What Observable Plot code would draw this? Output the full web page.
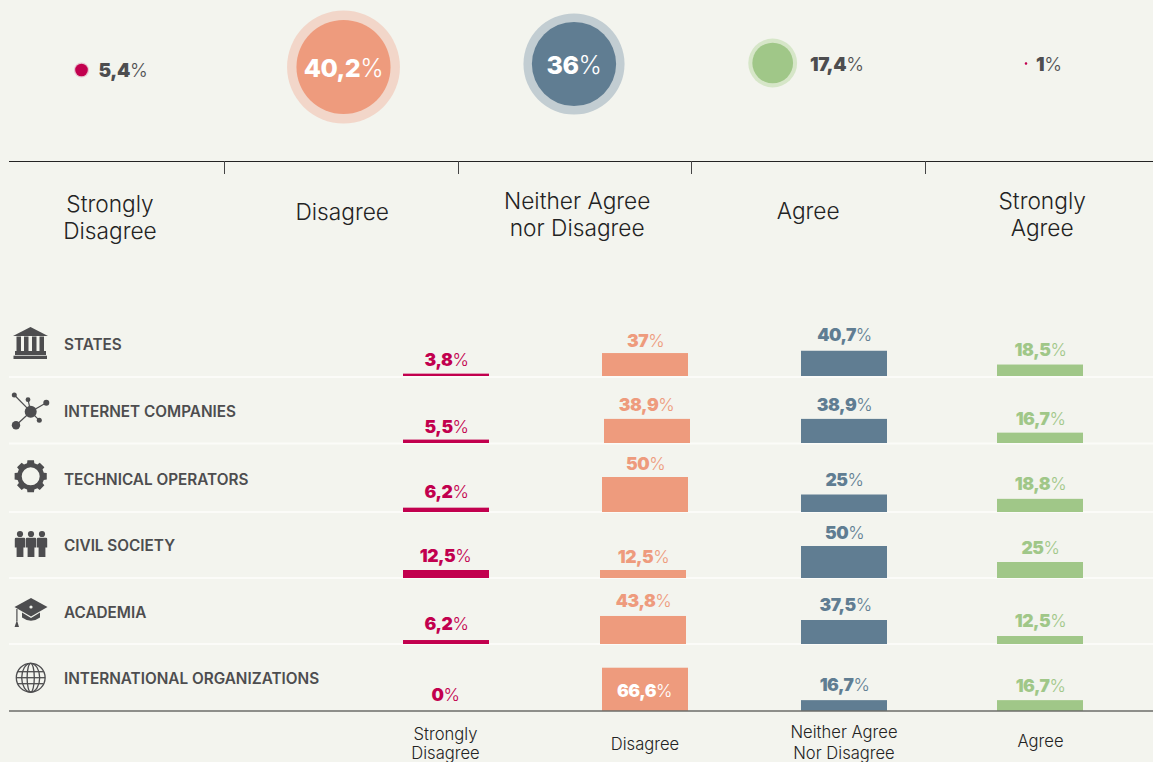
<!DOCTYPE html>
<html>
<head>
<meta charset="utf-8">
<script src="https://cdn.jsdelivr.net/npm/d3@7"></script>
<script src="https://cdn.jsdelivr.net/npm/@observablehq/plot@0.6"></script>
<style>
html,body{margin:0;padding:0;background:#f3f4ee;overflow:hidden}
svg{display:block}
.pct text{letter-spacing:-0.45px}
</style>
</head>
<body>
<div id="chart"></div>
<script>
// ---- data ----
const responses = ["Strongly\nDisagree", "Disagree", "Neither Agree\nnor Disagree", "Agree", "Strongly\nAgree"];
const overall = [5.4, 40.2, 36, 17.4, 1];
const stakeholders = ["STATES", "INTERNET COMPANIES", "TECHNICAL OPERATORS", "CIVIL SOCIETY", "ACADEMIA", "INTERNATIONAL ORGANIZATIONS"];
const stronglyDisagree = [3.8, 5.5, 6.2, 12.5, 6.2, 0];
const disagree = [37, 38.9, 50, 12.5, 43.8, 66.6];
const neither = [40.7, 38.9, 25, 50, 37.5, 16.7];
const agree = [18.5, 16.7, 18.8, 25, 12.5, 16.7];
const bottomLabels = ["Strongly\nDisagree", "Disagree", "Neither Agree\nNor Disagree", "Agree"];

// ---- layout and style ----
const BG = "#f3f4ee", INK = "#4d4d4f", DARK = "#232323";
const colors = ["#c2004e", "#ee9b7d", "#607d92", "#a0c788", "#c2004e"];
const halos = ["#e7c3cf", "#f2d6c9", "#c2cdd2", "#d6e6c8", "#e7c3cf"];
const FONT = "Inter, 'Noto Sans', sans-serif";
const circleX = [81, 343, 573.5, 772.2, 1025.5];
const circleY = [69.5, 66.5, 63.5, 62.5, 63];
const headX = [109.5, 341.7, 576.7, 807.7, 1041.7];
const headY = [216, 211, 213, 210, 213];
const topTickX = [224, 458, 691, 925];
const baseY = [376, 443, 512, 578, 644, 711];
const sepY = [376.5, 443, 511.5, 577.5, 643.5];
const rowLabelY = [345, 412, 480, 546, 613, 679];
const pxPerPct = [0.62, 0.62, 0.7, 0.64, 0.64, 0.65];
const barLeft = [
  [403, 602, 801, 997],
  [403, 604, 801, 997],
  [403, 602, 801, 997],
  [403, 600, 801, 997],
  [403, 600, 801, 997],
  [403, 602, 801, 997]
];
const BAR_W = 86;
const labelX = [
  [446, 645, 844, 1040],
  [446, 646, 844, 1040],
  [446, 645, 844, 1040],
  [445, 643, 844, 1040],
  [446, 643, 845, 1040],
  [445, 644, 844, 1040]
];
const labelY = [
  [360, 341, 335, 350],
  [427, 405, 405, 419],
  [492, 464, 480, 484],
  [556, 557, 533, 548],
  [624, 601, 605, 621],
  [695, 691, 685, 686]
];
const bottomX = [445, 644.5, 843.5, 1040];
const bottomY = [742.5, 744, 741, 741];
const bottomLead = [1.15, 1, 1.25, 1];

const fmt = v => String(v).replace(".", ",") + "%";

// table built from the arrays
const series = [stronglyDisagree, disagree, neither, agree];
const cells = series.flatMap((vals, c) => vals.map((value, r) => ({c, r, value})));
const tops = overall.map((value, i) => ({value, i}));

// icons: local coordinates around the icon's centre
function gearPath() {
  const p = [];
  const n = 8;
  for (let i = 0; i < n; i++) {
    const a = i / n * 2 * Math.PI;
    const w = 0.2;
    [[13.6, -w * 1.35], [16.4, -w], [16.4, w], [13.6, w * 1.35]].forEach(([R, t]) => {
      p.push([R * Math.cos(a + t), R * Math.sin(a + t)]);
    });
  }
  return "M" + p.map(q => q[0].toFixed(2) + "," + q[1].toFixed(2)).join("L") + "Z" +
    "M9,0A9,9 0 1 0 -9,0A9,9 0 1 0 9,0Z";
}
const icons = [
  {cx: 30.5, cy: 343, svg: `<path fill="${INK}" d="M-17.5,-7L0,-16L17.5,-7Z"/>
    <rect x="-14" y="-6.5" width="4.5" height="14.5" fill="${INK}"/>
    <rect x="-6.5" y="-6.5" width="4.5" height="14.5" fill="${INK}"/>
    <rect x="1.5" y="-6.5" width="4.5" height="14.5" fill="${INK}"/>
    <rect x="9" y="-6.5" width="4.5" height="14.5" fill="${INK}"/>
    <rect x="-15.5" y="8" width="31" height="4" fill="${INK}"/>
    <rect x="-17" y="12.7" width="33.5" height="3.3" fill="${INK}"/>`},
  {cx: 30.7, cy: 411.7, svg: `<g stroke="${INK}" stroke-width="1.2">
    <line x2="-16.4" y2="-16.7"/><line x2="-2.7" y2="-12"/><line x2="15.6" y2="-9"/><line x2="8.6" y2="8.6"/><line x2="-14.7" y2="13.6"/></g>
    <g fill="${INK}"><circle r="6"/><circle cx="-16.4" cy="-16.7" r="2.5"/><circle cx="-2.7" cy="-12" r="2.4"/><circle cx="15.6" cy="-9" r="3"/><circle cx="8.6" cy="8.6" r="2.5"/><circle cx="-14.7" cy="13.6" r="4.2"/></g>`},
  {cx: 30.7, cy: 476.3, svg: `<path fill="${INK}" fill-rule="evenodd" d="${gearPath()}"/>`},
  {cx: 31, cy: 545, svg: [-11, 0, 11].map(dx => `<g fill="${INK}" transform="translate(${dx},0)">
    <circle cy="-11" r="3.1"/><path d="M-4,-7.2H4Q5.2,-7.2 5.2,-6V2.5H3.4V12H-3.4V2.5H-5.2V-6Q-5.2,-7.2 -4,-7.2Z"/></g>`).join("")},
  {cx: 31, cy: 607, svg: `<g fill="${INK}"><path d="M0,-9L16.5,0L0,9.5L-16.5,0Z"/>
    <path d="M-9,5.5L0,11L9,5.5V10.5Q0,17 -9,10.5Z"/>
    <rect x="-14.7" y="2" width="1.2" height="12"/><path d="M-14.1,13L-12,20H-16.4Z"/></g>
    <circle cx="0" cy="0" r="1.6" fill="${BG}"/>`},
  {cx: 30.7, cy: 677.7, svg: `<g fill="none" stroke="${INK}" stroke-width="1.3">
    <circle r="14.4"/><ellipse rx="9" ry="14.4"/><ellipse rx="3.6" ry="14.4"/>
    <line x1="-14.4" x2="14.4"/><line x1="-12.8" x2="12.8" y1="-6" y2="-6"/><line x1="-12.8" x2="12.8" y1="6" y2="6"/></g>`}
];
function iconMark(index, {x, y}) {
  const g = d3.create("svg:g").attr("aria-label", "icons");
  icons.forEach(ic => {
    g.append("g").attr("transform", `translate(${x(ic.cx)},${y(ic.cy)})`).html(ic.svg);
  });
  return g.node();
}

const chart = Plot.plot({
  width: 1153, height: 762,
  margin: 0,
  x: {domain: [0, 1153], range: [0, 1153], axis: null},
  y: {domain: [0, 762], range: [0, 762], axis: null},
  r: {type: "linear", domain: [0, 100], range: [0, 117]},
  style: {background: BG, fontFamily: FONT, overflow: "visible"},
  marks: [
    // overall distribution
    Plot.dot(tops, {x: d => circleX[d.i], y: d => circleY[d.i], r: d => d.value * 1.2, fill: d => halos[d.i]}),
    Plot.dot(tops, {x: d => circleX[d.i], y: d => circleY[d.i], r: "value", fill: d => colors[d.i]}),
    Plot.text(tops.filter(d => d.i === 1 || d.i === 2), {
      className: "pct", x: d => circleX[d.i], y: d => circleY[d.i] + 1.5, text: d => fmt(d.value),
      fill: "white", fontSize: 25, fontWeight: 800, textAnchor: "middle"}),
    Plot.text(tops.filter(d => d.i === 0), {
      className: "pct", x: 98, y: 70, text: d => fmt(d.value),
      fill: INK, fontSize: 19, fontWeight: 900, textAnchor: "start"}),
    Plot.text(tops.filter(d => d.i === 3), {
      className: "pct", x: 809.5, y: 64, text: d => fmt(d.value),
      fill: INK, fontSize: 19, fontWeight: 900, textAnchor: "start"}),
    Plot.text(tops.filter(d => d.i === 4), {
      className: "pct", x: 1035.5, y: 64, text: d => fmt(d.value),
      fill: INK, fontSize: 19, fontWeight: 900, textAnchor: "start"}),
    // top axis
    Plot.ruleY([161], {x1: 9, x2: 1153, stroke: DARK, strokeWidth: 1}),
    Plot.ruleX(topTickX, {y1: 161, y2: 174, stroke: "#444", strokeWidth: 1}),
    Plot.text(responses, {
      x: (d, i) => headX[i], y: (d, i) => headY[i], text: d => d,
      fontSize: 22.7, fontWeight: 300, fill: DARK, lineHeight: 1.19, textAnchor: "middle"}),
    // separators
    Plot.ruleY(sepY, {x1: 9, x2: 1153, stroke: "#fbfbf8", strokeWidth: 2}),
    // row labels and icons
    iconMark,
    Plot.text(stakeholders, {
      x: 63.5, y: (d, i) => rowLabelY[i], text: d => d,
      fontSize: 15.3, fontWeight: 600, fill: INK, textAnchor: "start"}),
    // bars
    Plot.rect(cells.filter(d => d.value > 0), {
      x1: d => barLeft[d.r][d.c], x2: d => barLeft[d.r][d.c] + BAR_W,
      y1: d => baseY[d.r] - d.value * pxPerPct[d.r], y2: d => baseY[d.r],
      fill: d => colors[d.c]}),
    Plot.text(cells, {
      className: "pct", x: d => labelX[d.r][d.c], y: d => labelY[d.r][d.c], text: d => fmt(d.value),
      fill: d => (d.r === 5 && d.c === 1) ? "white" : colors[d.c],
      fontSize: 17.5, fontWeight: 900, textAnchor: "middle"}),
    // bottom axis
    Plot.ruleY([710.5], {x1: 9, x2: 1153, stroke: "#6b6c68", strokeWidth: 1.5}),
    ...bottomLabels.map((label, i) => Plot.text([label], {
      x: bottomX[i], y: bottomY[i], text: d => d,
      fontSize: 16.6, fontWeight: 300, fill: DARK, lineHeight: bottomLead[i], textAnchor: "middle"}))
  ]
});

// thin "%" sign after the bold figures
chart.querySelectorAll(".pct text").forEach(t => {
  const s = t.textContent;
  const n = s.slice(0, -1);
  t.textContent = "";
  const a = document.createElementNS("http://www.w3.org/2000/svg", "tspan");
  a.textContent = n;
  const b = document.createElementNS("http://www.w3.org/2000/svg", "tspan");
  b.textContent = "%";
  b.setAttribute("font-weight", 300);
  t.append(a, b);
});
document.getElementById("chart").append(chart);
</script>
</body>
</html>
